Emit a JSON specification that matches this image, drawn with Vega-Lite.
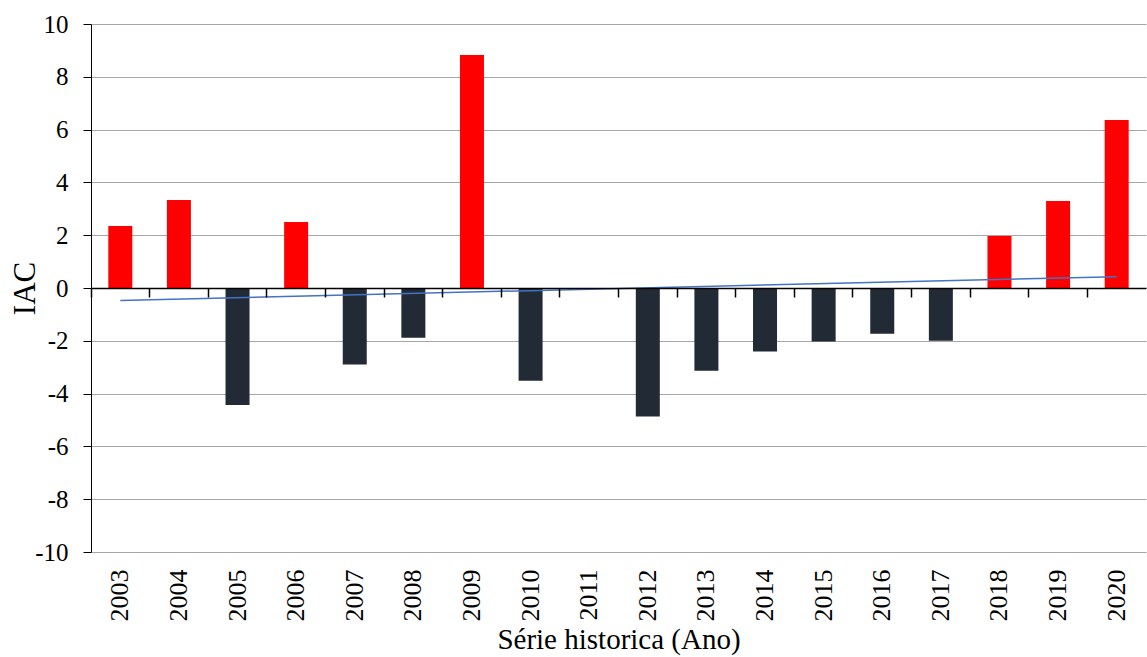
{
  "$schema": "https://vega.github.io/schema/vega-lite/v6.json",
  "width": 1055,
  "height": 528,
  "autosize": {"type": "none"},
  "padding": {"left": 91, "top": 24, "right": 1, "bottom": 105},
  "background": "white",
  "config": {
    "view": {"stroke": null},
    "font": "Times New Roman",
    "axis": {"labelFont": "Times New Roman", "titleFont": "Times New Roman", "labelColor": "black", "titleColor": "black", "titleFontWeight": "normal"}
  },
  "datasets": {
    "iac": [
      {"Ano": "2003", "IAC": 2.35},
      {"Ano": "2004", "IAC": 3.33},
      {"Ano": "2005", "IAC": -4.43},
      {"Ano": "2006", "IAC": 2.5},
      {"Ano": "2007", "IAC": -2.9},
      {"Ano": "2008", "IAC": -1.88},
      {"Ano": "2009", "IAC": 8.83},
      {"Ano": "2010", "IAC": -3.51},
      {"Ano": "2011", "IAC": -0.02},
      {"Ano": "2012", "IAC": -4.87},
      {"Ano": "2013", "IAC": -3.13},
      {"Ano": "2014", "IAC": -2.41},
      {"Ano": "2015", "IAC": -2.03},
      {"Ano": "2016", "IAC": -1.73},
      {"Ano": "2017", "IAC": -2.0},
      {"Ano": "2018", "IAC": 1.97},
      {"Ano": "2019", "IAC": 3.3},
      {"Ano": "2020", "IAC": 6.36}
    ],
    "trend": [
      {"Ano": "2003", "Tendencia": -0.47},
      {"Ano": "2020", "Tendencia": 0.43}
    ]
  },
  "resolve": {"axis": {"x": "independent", "y": "independent"}},
  "layer": [
    {
      "data": {"name": "iac"},
      "mark": {"type": "bar", "width": 24},
      "encoding": {
        "x": {
          "field": "Ano", "type": "ordinal",
          "scale": {"paddingInner": 0, "paddingOuter": 0},
          "axis": {
            "orient": "bottom",
            "title": "Série historica (Ano)",
            "titleFontSize": 29,
            "titleY": 96,
            "titleBaseline": "alphabetic",
            "labelFontSize": 26,
            "labelAngle": -90,
            "labelPadding": 17,
            "ticks": false,
            "domain": false,
            "grid": false
          }
        },
        "y": {
          "field": "IAC", "type": "quantitative",
          "scale": {"domain": [-10, 10], "nice": false},
          "axis": {
            "orient": "left",
            "title": "IAC",
            "titleFontSize": 31,
            "titleAngle": -90,
            "titleX": -57,
            "titleY": 264,
            "titleAlign": "center",
            "titleBaseline": "alphabetic",
            "values": [-10, -8, -6, -4, -2, 0, 2, 4, 6, 8, 10],
            "labelExpr": "replace(datum.label, '\u2212', '-')",
            "labelFontSize": 25,
            "labelPadding": 15,
            "tickSize": 8,
            "tickColor": "black",
            "domainColor": "black",
            "grid": true,
            "gridColor": "#a6a6a6",
            "gridWidth": 1.2
          }
        },
        "color": {
          "condition": {"test": "datum.IAC > 0", "value": "#ff0000"},
          "value": "#222a35"
        }
      }
    },
    {
      "data": {"name": "trend"},
      "mark": {"type": "line", "color": "#4472c4", "strokeWidth": 1.5},
      "encoding": {
        "x": {
          "field": "Ano", "type": "ordinal",
          "axis": {
            "orient": "bottom",
            "title": null,
            "labels": false,
            "offset": -264,
            "ticks": true,
            "tickSize": 9,
            "tickWidth": 1.5,
            "tickColor": "black",
            "bandPosition": 0,
            "tickOpacity": 1,
            "domainColor": "black",
            "domainWidth": 1.5,
            "grid": false,
            "zindex": 1
          }
        },
        "y": {"field": "Tendencia", "type": "quantitative", "axis": null}
      }
    }
  ]
}
